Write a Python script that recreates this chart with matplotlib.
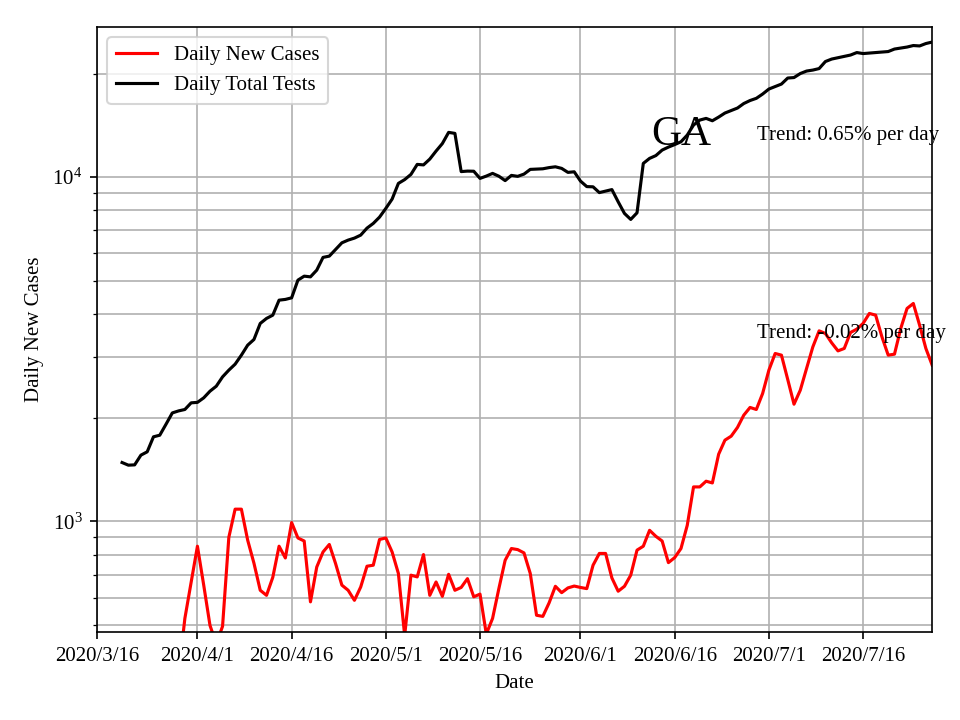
import datetime as dt
import matplotlib
matplotlib.use("Agg")
import matplotlib.pyplot as plt
import matplotlib.dates as mdates
from matplotlib.ticker import FuncFormatter

plt.rcParams['font.family'] = ['Liberation Serif', 'DejaVu Serif']
plt.rcParams['mathtext.fontset'] = 'stix'

# daily total tests, 2020/3/20 .. 2020/7/27
tests_start = dt.date(2020, 3, 20)
tests = [1481, 1455, 1458, 1556, 1591, 1759, 1778, 1914, 2064, 2092,
         2112, 2208, 2215, 2283, 2387, 2468, 2627, 2748, 2860, 3038,
         3248, 3374, 3756, 3884, 3970, 4389, 4411, 4458, 5018, 5154,
         5130, 5366, 5843, 5893, 6164, 6442, 6560, 6648, 6783, 7107,
         7335, 7651, 8110, 8630, 9587, 9834, 10181, 10886, 10850, 11280,
         11903, 12514, 13488, 13397, 10375, 10409, 10400, 9913, 10067, 10251,
         10060, 9768, 10114, 10050, 10202, 10529, 10551, 10571, 10656, 10713,
         10600, 10320, 10361, 9736, 9384, 9370, 9014, 9106, 9198, 8476,
         7843, 7534, 7874, 10960, 11334, 11548, 11980, 12223, 12431, 12666,
         13247, 14165, 14645, 14811, 14578, 14942, 15352, 15610, 15874, 16360,
         16692, 16940, 17430, 18024, 18330, 18636, 19402, 19465, 19995, 20330,
         20464, 20672, 21668, 22029, 22222, 22402, 22630, 23008, 22855, 22933,
         23000, 23087, 23164, 23556, 23714, 23873, 24115, 24050, 24440, 24684]

# daily new cases, 2020/3/29 .. 2020/7/27
cases_start = dt.date(2020, 3, 29)
cases = [360, 522, 665, 846, 652, 498, 440, 495, 898, 1084,
         1084, 881, 755, 630, 609, 687, 846, 782, 991, 894,
         876, 583, 736, 814, 856, 753, 652, 630, 589, 644,
         740, 745, 885, 894, 814, 705, 465, 697, 689, 800,
         609, 666, 605, 701, 630, 642, 681, 603, 614, 470,
         522, 637, 770, 833, 827, 809, 705, 533, 529, 579,
         647, 620, 640, 648, 642, 637, 745, 806, 806, 684,
         626, 647, 697, 824, 846, 941, 904, 876, 758, 784,
         833, 973, 1258, 1258, 1307, 1292, 1566, 1720, 1767, 1873,
         2033, 2141, 2112, 2350, 2748, 3072, 3038, 2582, 2188, 2403,
         2779, 3211, 3574, 3512, 3299, 3126, 3177, 3536, 3615, 3756,
         4016, 3970, 3434, 3038, 3058, 3633, 4152, 4293, 3713, 3177, 2841]

state = "GA"
trend_tests = "Trend: 0.65% per day"
trend_cases = "Trend: -0.02% per day"

tests_dates = [tests_start + dt.timedelta(days=i) for i in range(len(tests))]
cases_dates = [cases_start + dt.timedelta(days=i) for i in range(len(cases))]


def date_label(x, pos):
    d = mdates.num2date(x)
    return "{}/{}/{}".format(d.year, d.month, d.day)


fig, ax = plt.subplots(figsize=(6.4, 4.8), dpi=150)
fig.subplots_adjust(left=0.101, right=0.971, top=0.9625, bottom=0.122)

ax.plot(cases_dates, cases, color='red', label='Daily New Cases')
ax.plot(tests_dates, tests, color='black', label='Daily Total Tests')
ax.set_yscale('log')
ax.set_ylim(476, 27300)
ax.set_xlim(dt.date(2020, 3, 16), dt.date(2020, 7, 27))

ax.xaxis.set_major_locator(mdates.DayLocator(bymonthday=[1, 16]))
ax.xaxis.set_major_formatter(FuncFormatter(date_label))
ax.grid(True, which='both')

ax.set_xlabel('Date')
ax.set_ylabel('Daily New Cases')
ax.legend(loc='upper left')

ax.text(0.664, 0.805, state, fontsize=20, transform=ax.transAxes)
ax.text(0.790, 0.813, trend_tests, transform=ax.transAxes)
ax.text(0.790, 0.4855, trend_cases, transform=ax.transAxes)

fig.savefig('out.png')
